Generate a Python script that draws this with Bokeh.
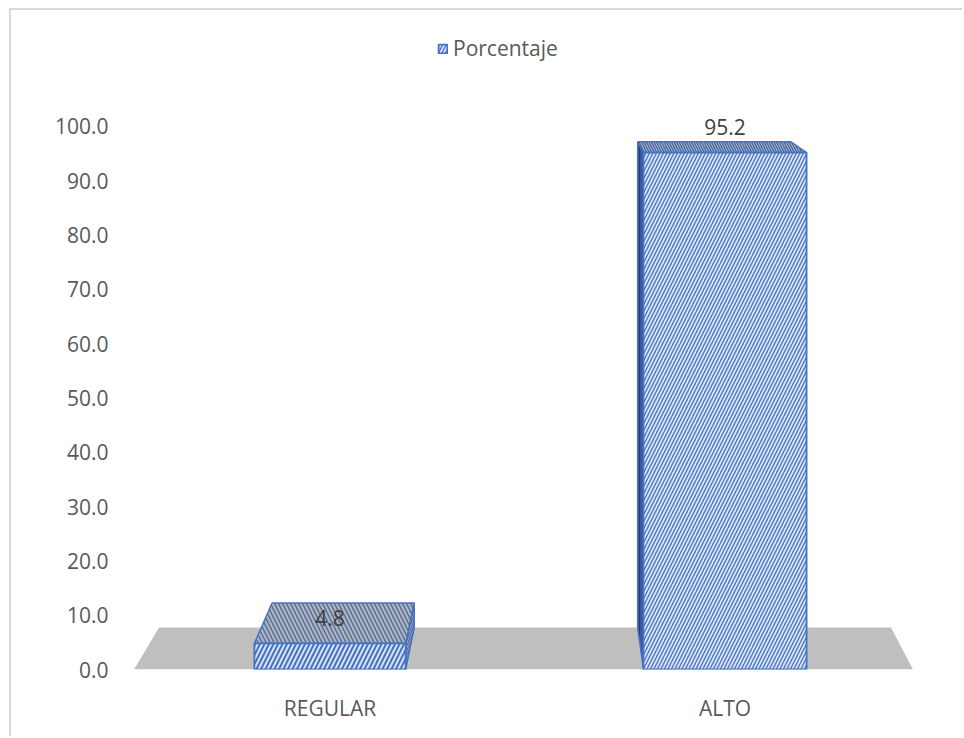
from bokeh.plotting import figure
from bokeh.models import Range1d, FixedTicker, NumeralTickFormatter, Legend, LegendItem, ColumnDataSource
from bokeh.embed import file_html
from bokeh.resources import INLINE
from bokeh.core.properties import value

# ---- data ----
categories = ["REGULAR", "ALTO"]
porcentaje = [4.8, 95.2]
y_ticks = [0, 10, 20, 30, 40, 50, 60, 70, 80, 90, 100]
series_name = "Porcentaje"

# ---- geometry / style constants ----
CENTERS = [0.5 + i for i in range(len(categories))]
BAR_W = [0.383, 0.413]
VX, VY, F = 1.052, 128.2, 0.0603   # perspective vanishing point (data units) and depth fraction
FLOOR = (0.004, 1.976)
FONT = "Open Sans"
FS = "21px"
TXT = "#595959"
BLUE = "#4472c4"


def back(x, y):
    return x + F * (VX - x), y + F * (VY - y)


p = figure(width=953, height=728, x_range=Range1d(0, 2), y_range=Range1d(0, 119.52),
           output_backend="svg", toolbar_location=None,
           min_border_left=121, min_border_right=42, min_border_top=10, min_border_bottom=69,
           margin=(8, 0, 0, 9),
           styles={"border-top": "2px solid #d9d9d9", "border-left": "2px solid #d9d9d9"})
p.grid.visible = False
p.outline_line_color = None
p.background_fill_color = "white"

# floor
fx0, fx1 = FLOOR
bfx0, bfy0 = back(fx0, 0)
bfx1, bfy1 = back(fx1, 0)
p.patch([fx0, fx1, bfx1, bfx0], [0, 0, bfy1, bfy0], fill_color="#bfbfbf", line_color=None)

front = dict(xs=[], ys=[], hs=[], hw=[])
top = dict(xs=[], ys=[], fc=[], hc=[], hs=[])
side = dict(xs=[], ys=[], fc=[], hc=[], hp=[])
lab_in = dict(x=[], y=[], t=[])
lab_out = dict(x=[], y=[], t=[])

for i, (c, v) in enumerate(zip(CENTERS, porcentaje)):
    w = BAR_W[i]
    x0, x1 = c - w / 2, c + w / 2
    bx0, bv0 = back(x0, v)
    bx1, bv1 = back(x1, v)
    front["xs"].append([x0, x1, x1, x0]); front["ys"].append([0, 0, v, v])
    front["hs"].append(9 if v < 50 else 7); front["hw"].append(2.0 if v < 50 else 1.3)
    top["xs"].append([x0, x1, bx1, bx0]); top["ys"].append([v, v, bv1, bv0])
    top["fc"].append("#a9b4c7" if v < 50 else "#a9b9d6")
    top["hc"].append("#56668a" if v < 50 else "#4a6296")
    top["hs"].append(8 if v < 50 else 5)
    sx = x1 if x1 < VX else x0
    bsx0, bsy0 = back(sx, 0)
    bsx1, bsy1 = back(sx, v)
    side["xs"].append([sx, bsx0, bsx1, sx]); side["ys"].append([0, bsy0, bsy1, v])
    side["fc"].append("#8b9cc0" if v < 50 else "#3b5895")
    side["hc"].append("#4a5f8f" if v < 50 else "#223d73")
    side["hp"].append("\\" if v < 50 else "|")
    if v < 50:
        lab_in["x"].append(c); lab_in["y"].append(v + 0.62 * (bv0 - v)); lab_in["t"].append(f"{v:.1f}")
    else:
        lab_out["x"].append(c); lab_out["y"].append(max(bv0, bv1)); lab_out["t"].append(f"{v:.1f}")

p.patches(xs="xs", ys="ys", source=ColumnDataSource(side), fill_color="fc", hatch_pattern="hp",
          hatch_color="hc", hatch_scale=5, hatch_weight=1, line_color=BLUE, line_width=1.5)
p.patches(xs="xs", ys="ys", source=ColumnDataSource(top), fill_color="fc", hatch_pattern="\\",
          hatch_color="hc", hatch_scale="hs", hatch_weight=1.3, line_color=BLUE, line_width=1.5)
fr = p.patches(xs="xs", ys="ys", source=ColumnDataSource(front), fill_color="#dae3f3", hatch_pattern="/",
               hatch_color=BLUE, hatch_scale="hs", hatch_weight="hw", line_color=BLUE, line_width=1.8)

p.text(x="x", y="y", text="t", source=ColumnDataSource(lab_in), text_align="center", text_baseline="middle",
       text_font=value(FONT), text_font_size=FS, text_color="#404040")
p.text(x="x", y="y", text="t", source=ColumnDataSource(lab_out), text_align="center", text_baseline="bottom",
       y_offset=-7, text_font=value(FONT), text_font_size=FS, text_color="#404040")

# axes
p.yaxis.ticker = FixedTicker(ticks=y_ticks)
p.yaxis.formatter = NumeralTickFormatter(format="0.0")
p.xaxis.ticker = FixedTicker(ticks=CENTERS)
p.xaxis.major_label_overrides = {c: cat for c, cat in zip(CENTERS, categories)}
for ax in (p.xaxis, p.yaxis):
    ax.axis_line_color = None
    ax.major_tick_line_color = None
    ax.minor_tick_line_color = None
    ax.major_label_text_font = FONT
    ax.major_label_text_font_size = FS
    ax.major_label_text_color = TXT
    ax.major_label_standoff = 18

legend = Legend(items=[LegendItem(label=series_name, renderers=[fr], index=1)], location=(305, 607),
                orientation="horizontal", border_line_color=None, background_fill_alpha=0,
                padding=0, margin=0, glyph_width=11, glyph_height=11, label_standoff=5,
                label_text_font=FONT, label_text_font_size=FS, label_text_color=TXT)
p.add_layout(legend)

open("out.html", "w").write(file_html(p, INLINE))
